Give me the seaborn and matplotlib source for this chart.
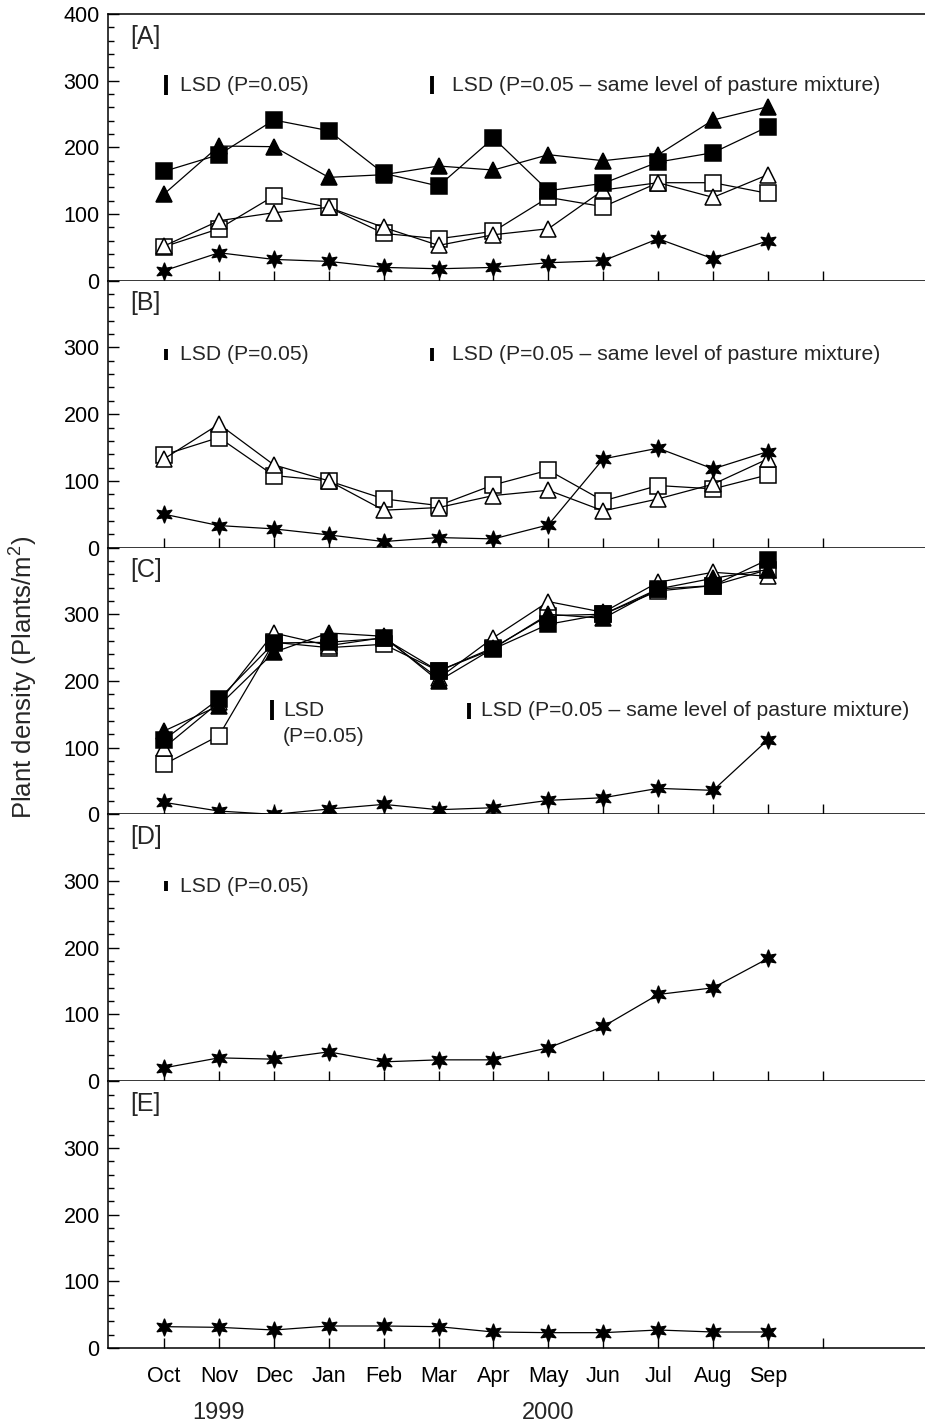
import numpy as np
import pandas as pd
import matplotlib.pyplot as plt
from matplotlib.path import Path
import seaborn as sns

months = ['Oct', 'Nov', 'Dec', 'Jan', 'Feb', 'Mar', 'Apr', 'May', 'Jun', 'Jul', 'Aug', 'Sep']
years = ['1999', '2000']

# panel A
a_filled_sq = [164, 189, 241, 225, 161, 142, 214, 135, 146, 178, 192, 231]
a_filled_tri = [130, 202, 201, 155, 159, 172, 166, 189, 180, 189, 241, 261]
a_open_sq = [51, 78, 127, 110, 71, 63, 74, 125, 111, 147, 147, 131]
a_open_tri = [52, 90, 102, 110, 80, 53, 69, 78, 136, 147, 125, 159]
a_star = [15, 42, 32, 29, 20, 18, 20, 27, 30, 63, 33, 60]

# panel B
b_open_sq = [139, 165, 108, 100, 73, 63, 94, 116, 70, 93, 88, 109]
b_open_tri = [133, 185, 124, 100, 56, 60, 78, 86, 55, 73, 95, 133]
b_star = [50, 33, 28, 19, 9, 15, 13, 34, 133, 149, 118, 144]

# panel C
c_filled_sq = [112, 173, 257, 258, 264, 215, 248, 285, 300, 338, 343, 382]
c_filled_tri = [125, 163, 243, 272, 267, 200, 249, 300, 294, 338, 354, 367]
c_open_sq = [75, 118, 258, 250, 255, 215, 250, 298, 300, 335, 343, 367]
c_open_tri = [100, 168, 272, 253, 265, 204, 265, 319, 303, 348, 363, 357]
c_star = [18, 5, 0, 8, 15, 7, 10, 21, 25, 39, 36, 112]

# panel D and E
d_star = [20, 35, 33, 44, 29, 32, 32, 50, 82, 130, 140, 184]
e_star = [32, 31, 27, 33, 33, 32, 24, 23, 23, 27, 24, 24]

# LSD bar lengths
lsd_all = [30, 17, 30, 15]
lsd_mix = [27, 20, 24]

sns.set_theme(style='ticks')
plt.rcParams['font.family'] = ['Liberation Sans Narrow', 'Liberation Sans', 'DejaVu Sans']
plt.rcParams['mathtext.fontset'] = 'custom'
plt.rcParams['mathtext.rm'] = 'Liberation Sans'

star = Path.unit_regular_star(6, 0.45)

styles = {
    'open_sq': dict(marker='s', markerfacecolor='white', markersize=11.5),
    'open_tri': dict(marker='^', markerfacecolor='white', markersize=12),
    'filled_sq': dict(marker='s', markerfacecolor='black', markersize=11.5),
    'filled_tri': dict(marker='^', markerfacecolor='black', markersize=12),
    'star': dict(marker=star, markerfacecolor='black', markersize=12),
}

panels = [
    ('[A]', {'open_sq': a_open_sq, 'open_tri': a_open_tri, 'filled_sq': a_filled_sq,
             'filled_tri': a_filled_tri, 'star': a_star}),
    ('[B]', {'open_sq': b_open_sq, 'open_tri': b_open_tri, 'star': b_star}),
    ('[C]', {'open_sq': c_open_sq, 'open_tri': c_open_tri, 'filled_sq': c_filled_sq,
             'filled_tri': c_filled_tri, 'star': c_star}),
    ('[D]', {'star': d_star}),
    ('[E]', {'star': e_star}),
]

x = np.arange(len(months))

fig, axes = plt.subplots(5, 1, figsize=(9.25, 14.23), dpi=100, sharex=True)
fig.subplots_adjust(left=0.1168, right=1.0, top=0.9902, bottom=0.0527, hspace=0)

for i, (ax, (name, series)) in enumerate(zip(axes, panels)):
    for key, vals in series.items():
        sns.lineplot(x=x, y=vals, ax=ax, color='black', lw=0.9,
                     markeredgecolor='black', markeredgewidth=1.1,
                     clip_on=False, zorder=3, **styles[key])
    ax.set_ylim(0, 400)
    ax.set_xlim(-1.02, 13.86)
    ax.set_yticks([0, 100, 200, 300, 400])
    ax.set_yticks(np.arange(0, 401, 20), minor=True)
    if i == 0:
        ax.set_yticklabels(['0', '100', '200', '300', '400'])
    else:
        ax.set_yticklabels(['0', '100', '200', '300', ''])
    ax.set_xticks(np.arange(13))
    ax.set_ylabel('')
    ax.tick_params(axis='both', which='both', direction='in', width=1, colors='black',
                   labelsize=15.5, right=False, top=False)
    ax.tick_params(axis='y', which='major', length=8, pad=6)
    ax.tick_params(axis='y', which='minor', length=4.5)
    ax.tick_params(axis='x', which='major', length=7, pad=13)
    ax.spines['right'].set_visible(False)
    if i > 0:
        ax.spines['top'].set_visible(False)
    for s in ['left', 'bottom', 'top']:
        ax.spines[s].set_linewidth(1.1)
        ax.spines[s].set_color('black')
    ax.text(0.027, 0.915, name, transform=ax.transAxes, fontsize=18,
            ha='left', va='center')

# LSD bars and labels
txt = dict(fontsize=15.2, ha='left', va='center')
for ax, yc, L in zip([axes[0], axes[1], axes[3]], [293, 289, 292], [lsd_all[0], lsd_all[1], lsd_all[3]]):
    ax.vlines(0.04, yc - L / 2, yc + L / 2, color='black', lw=2.8)
    ax.text(0.29, yc, 'LSD (P=0.05)', **txt)
for ax, yc, L in zip([axes[0], axes[1]], [293, 289], lsd_mix[:2]):
    ax.vlines(4.88, yc - L / 2, yc + L / 2, color='black', lw=2.8)
    ax.text(5.25, yc, 'LSD (P=0.05 \u2013 same level of pasture mixture)', **txt)
axes[2].vlines(1.97, 157 - lsd_all[2] / 2, 157 + lsd_all[2] / 2, color='black', lw=2.8)
axes[2].text(2.17, 170, 'LSD\n(P=0.05)', fontsize=15.2, ha='left', va='top', linespacing=1.45)
axes[2].vlines(5.56, 155 - lsd_mix[2] / 2, 155 + lsd_mix[2] / 2, color='black', lw=2.8)
axes[2].text(5.77, 155, 'LSD (P=0.05 \u2013 same level of pasture mixture)', **txt)

axes[-1].set_xticklabels(months + [''])
for xi, yr in zip([1, 7], years):
    axes[-1].annotate(yr, xy=(xi, 0), xycoords=('data', 'axes fraction'),
                      xytext=(0, -47), textcoords='offset points',
                      ha='center', va='center', fontsize=17)

fig.text(0.024, 0.524, 'Plant density (Plants/m$^2$)', rotation=90,
         ha='center', va='center', fontsize=18.5)

fig.savefig('out.png', dpi=100)
